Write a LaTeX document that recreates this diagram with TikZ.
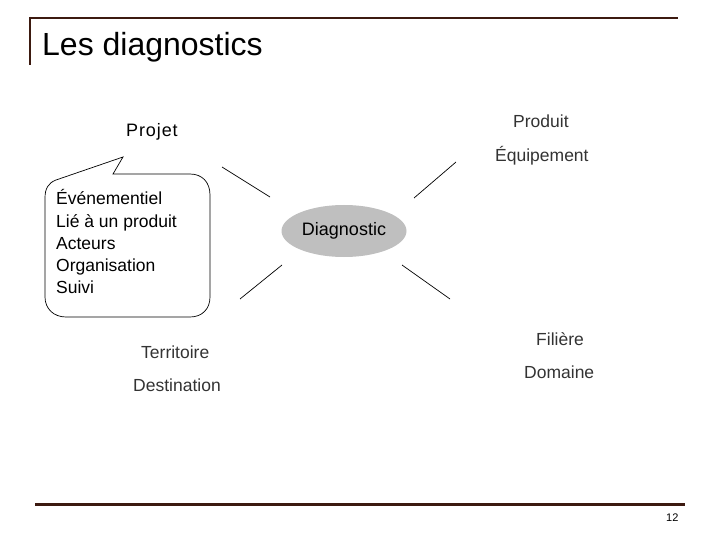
\documentclass[tikz,border=0pt]{standalone}
\usepackage{fontspec}
\setmainfont{Liberation Sans}
\usetikzlibrary{shapes.geometric}
\definecolor{rule}{HTML}{3C1A10}
\definecolor{lbl}{HTML}{333333}
\definecolor{ell}{HTML}{BFBFBF}
\begin{document}
\begin{tikzpicture}[x=1pt,y=-1pt,
  lab/.style={anchor=base west,inner sep=0pt,text=lbl,font=\fontsize{17.5}{21}\selectfont},
  txt/.style={anchor=base west,inner sep=0pt,text=black,font=\fontsize{17.5}{21}\selectfont},
  spoke/.style={draw=black,line width=0.7pt}]
\useasboundingbox (0,0) rectangle (720,540);
% frame rules
\draw[rule,line width=2pt] (30,18) -- (678,18);
\draw[rule,line width=2pt] (30,17) -- (30,65);
\draw[rule,line width=3pt] (35,504) -- (685,504);
\node[anchor=base west,inner sep=0pt,font=\fontsize{32}{36}\selectfont] (title) at (42,56) {Les diagnostics};
\node[anchor=base west,inner sep=0pt,font=\fontsize{11}{13}\selectfont] (page) at (666,521) {12};
% central ellipse
\node[ellipse,fill=ell,minimum width=125pt,minimum height=52pt,inner sep=0pt,
  font=\fontsize{18}{21}\selectfont] (diag) at (344,231) {Diagnostic};
% spokes
\coordinate (ul1) at (222,167); \coordinate (ul2) at (270,197);
\coordinate (ur1) at (414,198); \coordinate (ur2) at (456,162);
\coordinate (ll1) at (240,299); \coordinate (ll2) at (282,265);
\coordinate (lr1) at (402,265); \coordinate (lr2) at (450,299);
\draw[spoke] (ul1) -- (ul2);
\draw[spoke] (ur1) -- (ur2);
\draw[spoke] (ll1) -- (ll2);
\draw[spoke] (lr1) -- (lr2);
% labels
\node[txt,font=\fontsize{18}{21}\selectfont\addfontfeature{LetterSpace=5}] (projet) at (126,137) {Projet};
\node[lab] (produit) at (513,128) {Produit};
\node[lab] (equip) at (495,162) {Équipement};
\node[lab] (terr) at (141,358) {Territoire};
\node[lab] (dest) at (133,391) {Destination};
\node[lab] (fil) at (536,345) {Filière};
\node[lab] (dom) at (524,378) {Domaine};
% callout
\draw[line width=0.7pt] (123,157) -- (113,174) -- (190,174)
  .. controls (202,174) and (210,182) .. (210,195) -- (210,297)
  .. controls (210,309) and (202,317) .. (190,317) -- (66,317)
  .. controls (54,317) and (45,309) .. (45,297) -- (45,198)
  .. controls (45,189) and (48,183) .. (56,180) -- cycle;
\node[txt] (c1) at (56,205) {Événementiel};
\node[txt] (c2) at (56,227) {Lié à un produit};
\node[txt] (c3) at (56,249) {Acteurs};
\node[txt] (c4) at (56,271) {Organisation};
\node[txt] (c5) at (56,293) {Suivi};
\end{tikzpicture}
\end{document}
